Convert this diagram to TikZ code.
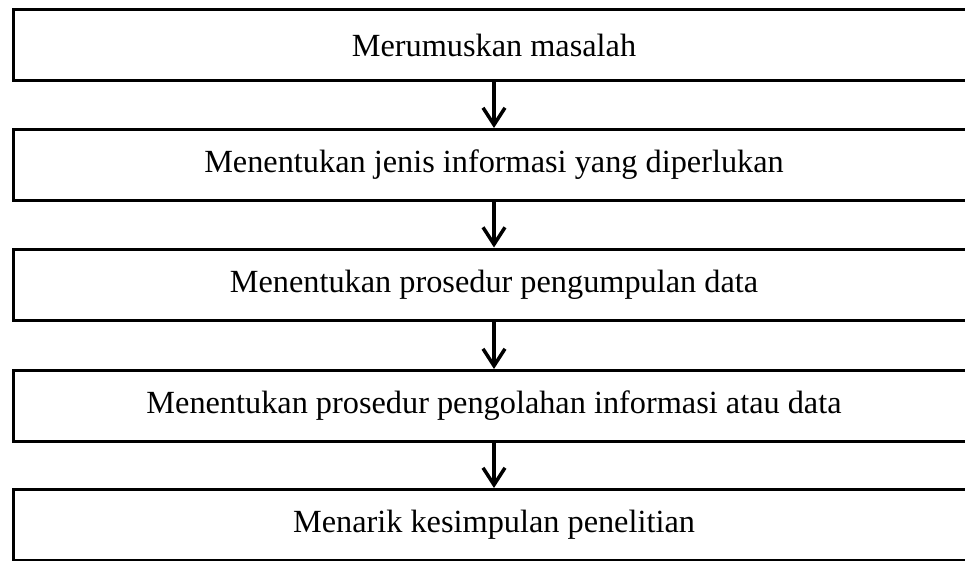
\documentclass[tikz,border=0pt]{standalone}
\usepackage{fontspec}
\setmainfont{Liberation Serif}
\usetikzlibrary{arrows.meta}
\begin{document}
\begin{tikzpicture}[x=1pt,y=-1pt,
  box/.style={draw=black,line width=3pt,rectangle,minimum width=961pt,minimum height=71pt,inner sep=0pt,font=\fontsize{32.3}{38}\selectfont},
  arr/.style={line width=3.5pt,-{Straight Barb[length=17pt,width=22pt,line width=3.5pt]}}]
\useasboundingbox (0,0) rectangle (965,561);
\node[box] (b1) at (494,45) {Merumuskan masalah};
\node[box] (b2) at (494,165) {Menentukan jenis informasi yang diperlukan};
\node[box] (b3) at (494,284.5) {Menentukan prosedur pengumpulan data};
\node[box] (b4) at (494,406) {Menentukan prosedur pengolahan informasi atau data};
\node[box] (b5) at (494,525) {Menarik kesimpulan penelitian};
\draw[arr] (b1.south) -- (b2.north);
\draw[arr] (b2.south) -- (b3.north);
\draw[arr] (b3.south) -- (b4.north);
\draw[arr] (b4.south) -- (b5.north);
\end{tikzpicture}
\end{document}
